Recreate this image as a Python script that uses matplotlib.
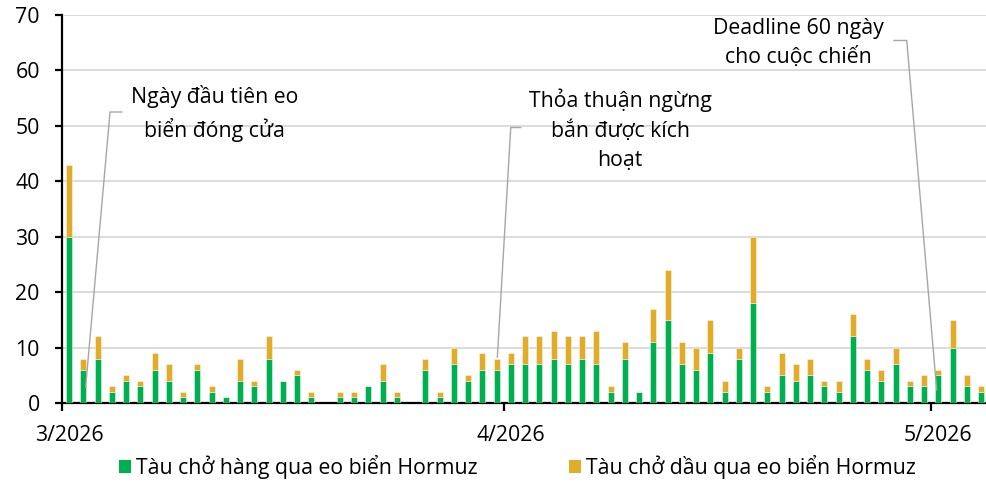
import matplotlib
matplotlib.use("Agg")
import matplotlib.pyplot as plt
import matplotlib.dates as mdates
from matplotlib.patches import Patch
import numpy as np
import pandas as pd

plt.rcParams['font.family'] = ['Open Sans', 'DejaVu Sans']

# Daily data, 1 Mar 2026 .. 4 May 2026
dates = pd.date_range('2026-03-01', '2026-05-04', freq='D')
cargo = [30, 6, 8, 2, 4, 3, 6, 4, 1, 6, 2, 1, 4, 3, 8, 4, 5, 1, 0, 1, 1, 3, 4, 1, 0, 6, 1, 7, 4, 6, 6,
         7, 7, 7, 8, 7, 8, 7, 2, 8, 2, 11, 15, 7, 6, 9, 2, 8, 18, 2, 5, 4, 5, 3, 2, 12, 6, 4, 7, 3, 3,
         5, 10, 3, 2]
tanker = [13, 2, 4, 1, 1, 1, 3, 3, 1, 1, 1, 0, 4, 1, 4, 0, 1, 1, 0, 1, 1, 0, 3, 1, 0, 2, 1, 3, 1, 3, 2,
          2, 5, 5, 5, 5, 4, 6, 1, 3, 0, 6, 9, 4, 4, 6, 2, 2, 12, 1, 4, 3, 3, 1, 2, 4, 2, 2, 3, 1, 2,
          1, 5, 2, 1]
month_ticks = ['2026-03-01', '2026-04-01', '2026-05-01']
month_labels = ['3/2026', '4/2026', '5/2026']
series_names = ['Tàu chở hàng qua eo biển Hormuz', 'Tàu chở dầu qua eo biển Hormuz']

# annotations: (text, text position (day offset, y), elbow points (day offset, y) list)
annotations = [
    ('Ngày đầu tiên eo\nbiển đóng cửa', (10.7, 52.2), [(4.19, 52.5), (3.37, 52.5), (1.66, 2.9)]),
    ('Thỏa thuận ngừng\nbắn được kích\nhoạt', (39.16, 49.3), [(32.19, 49.7), (31.49, 49.7), (30.55, 8.3)]),
    ('Deadline 60 ngày\ncho cuộc chiến', (51.65, 65.0), [(58.39, 65.4), (59.28, 65.4), (61.38, 2.35)]),
]

GREEN = '#00b050'
GOLD = '#e0ac2a'
GRID = '#d9d9d9'
LINE = '#a6a6a6'
FS = 15.3

fig = plt.figure(figsize=(9.86, 4.83), dpi=100)
ax = fig.add_axes([62/986, 80/483, 1 - 62/986, 388/483])

start = mdates.date2num(pd.Timestamp('2026-03-01'))
x = mdates.date2num(dates) + 0.5
cargo = np.array(cargo)
tanker = np.array(tanker)
w = 0.42
ax.bar(x, cargo, width=w, color=GREEN, edgecolor=(1, 1, 1, 0.6), linewidth=0.5, zorder=3)
ax.bar(x, tanker, width=w, bottom=cargo, color=GOLD, edgecolor=(1, 1, 1, 0.6), linewidth=0.5, zorder=3)

ax.set_xlim(start, start + 64.84)
ax.set_ylim(0, 70)
ax.set_yticks(np.arange(0, 71, 10))
ax.yaxis.grid(True, color=GRID, linewidth=1.3, zorder=0)
ax.set_axisbelow(True)
for s in ['top', 'right']:
    ax.spines[s].set_visible(False)
for s in ['left', 'bottom']:
    ax.spines[s].set_linewidth(1.6)
    ax.spines[s].set_color('black')

mt = mdates.date2num(pd.to_datetime(month_ticks))
ax.set_xticks(mt)
ax.set_xticklabels([])
ax.set_xticks(mt + 0.5, minor=True)
ax.set_xticklabels(month_labels, minor=True)
ax.tick_params(axis='x', which='major', length=6, width=1.6, direction='out')
ax.tick_params(axis='x', which='minor', length=0, pad=16, labelsize=FS)
ax.tick_params(axis='y', length=5, width=1.6, direction='out', pad=11, labelsize=FS)

for text, (tx, ty), pts in annotations:
    ax.text(start + tx, ty, text, ha='center', va='center', fontsize=FS, linespacing=1.5, zorder=5)
    px = [start + p[0] for p in pts]
    py = [p[1] for p in pts]
    ax.plot(px, py, color=LINE, linewidth=1.0, zorder=4, clip_on=False)

handles = [Patch(facecolor=GREEN), Patch(facecolor=GOLD)]
fig.legend(handles, series_names, loc='center', bbox_to_anchor=(517/986, 1 - 467/483), ncol=2,
           frameon=False, fontsize=FS, handlelength=0.6, handleheight=0.6, handletextpad=0.2,
           columnspacing=4.3, borderaxespad=0, borderpad=0)

fig.savefig('out.png', dpi=100)
